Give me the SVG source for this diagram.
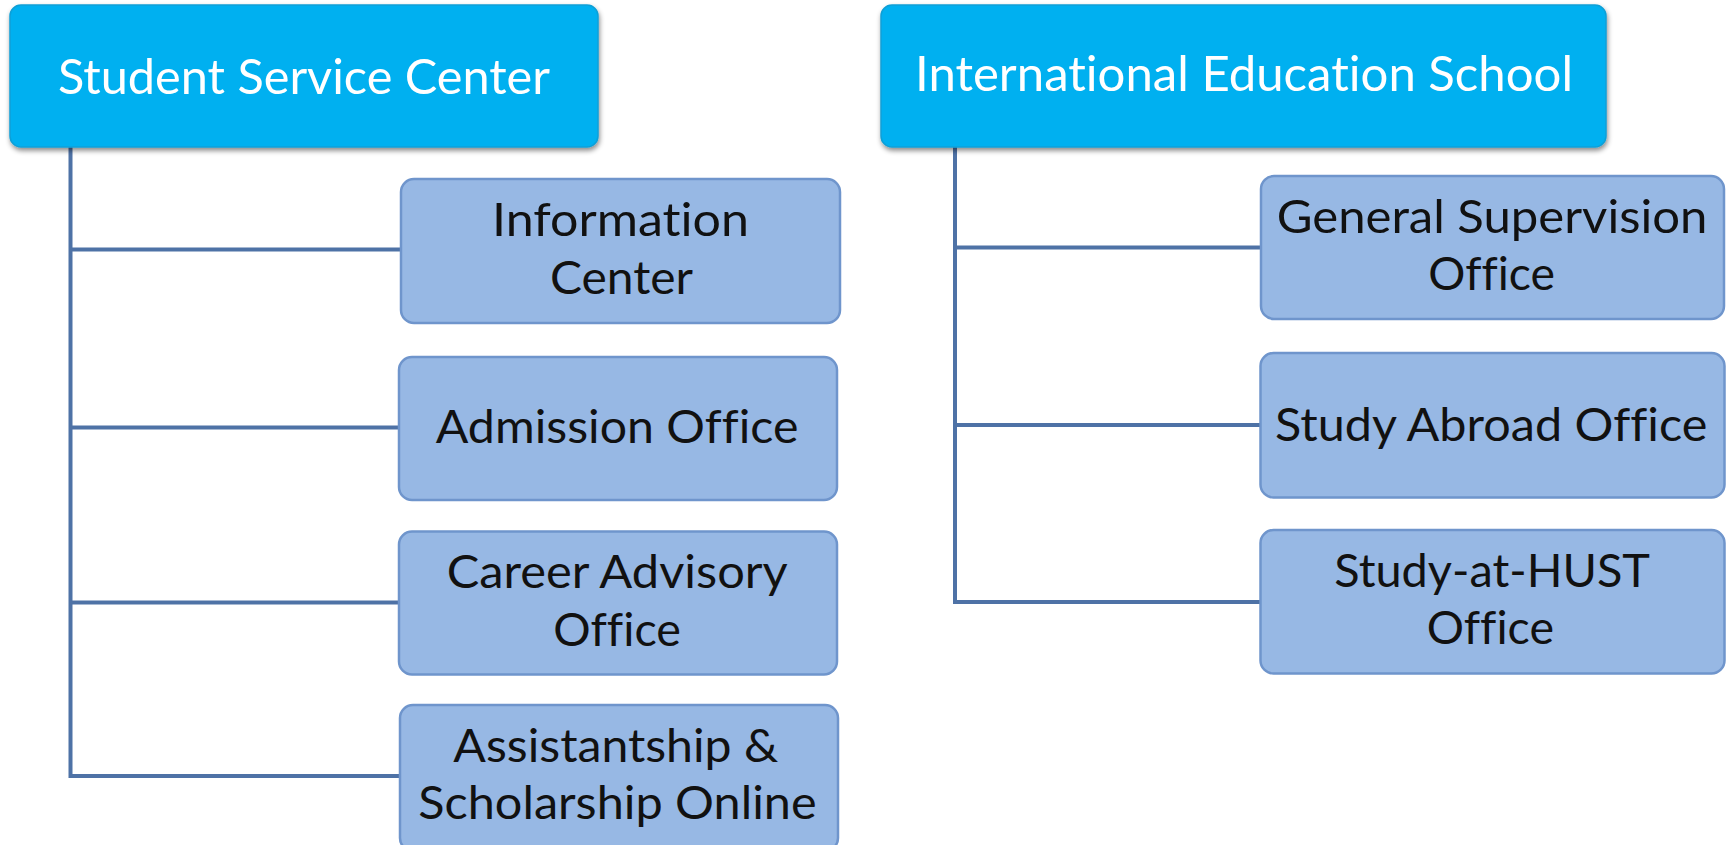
<svg xmlns="http://www.w3.org/2000/svg" width="1727" height="845" viewBox="0 0 1727 845">
<style>
.top{fill:#00B0F0;stroke:#0E9FD6;stroke-width:1.5}
.child{fill:#97B8E4;stroke:#6F95CC;stroke-width:2.5}
.tt{font-family:Lato,"Open Sans","Liberation Sans",sans-serif;font-size:49px;fill:#FFFFFF;font-variant-ligatures:none;font-feature-settings:"liga" 0,"dlig" 0}
.ct{font-family:Lato,"Open Sans","Liberation Sans",sans-serif;font-size:47px;fill:#111111;font-variant-ligatures:none;font-feature-settings:"liga" 0,"dlig" 0}
.conn{fill:none;stroke:#4E72A6;stroke-width:4}
</style>
<defs>
<filter id="sh" x="-5%" y="-10%" width="110%" height="130%">
<feDropShadow dx="1" dy="3" stdDeviation="2.5" flood-color="#000000" flood-opacity="0.45"/>
</filter>
</defs>
<rect width="1727" height="845" fill="#FFFFFF"/>
<g id="connectors">
<path class="conn" d="M70.5 146 V776 H400 M70.5 249.5 H401 M70.5 427.5 H399 M70.5 602.5 H399"/>
<path class="conn" d="M955 146 V602 H1261 M955 247.5 H1261 M955 425 H1261"/>
</g>
<g id="student-service-center">
<rect class="top" x="10" y="5" width="588" height="142" rx="11" filter="url(#sh)"/>
<text class="tt" x="58" y="93.5" textLength="492" lengthAdjust="spacingAndGlyphs">Student Service Center</text>
</g>
<g id="international-education-school">
<rect class="top" x="881" y="5" width="725" height="142" rx="11" filter="url(#sh)"/>
<text class="tt" x="915" y="91" textLength="658" lengthAdjust="spacingAndGlyphs">International Education School</text>
</g>
<g id="information-center">
<rect class="child" x="401" y="179" width="439" height="144" rx="13"/>
<text class="ct" x="492" y="236" textLength="257" lengthAdjust="spacingAndGlyphs">Information</text>
<text class="ct" x="550" y="293.7" textLength="143" lengthAdjust="spacingAndGlyphs">Center</text>
</g>
<g id="admission-office">
<rect class="child" x="399" y="357" width="438" height="143" rx="13"/>
<text class="ct" x="435.7" y="443.3" textLength="362.7" lengthAdjust="spacingAndGlyphs">Admission Office</text>
</g>
<g id="career-advisory-office">
<rect class="child" x="399" y="531.5" width="438" height="143" rx="13"/>
<text class="ct" x="446.7" y="588.3" textLength="341" lengthAdjust="spacingAndGlyphs">Career Advisory</text>
<text class="ct" x="553.3" y="646" textLength="127.7" lengthAdjust="spacingAndGlyphs">Office</text>
</g>
<g id="assistantship-scholarship-online">
<rect class="child" x="400" y="705" width="438" height="146" rx="13"/>
<text class="ct" x="453.3" y="762.3" textLength="325" lengthAdjust="spacingAndGlyphs">Assistantship &amp;</text>
<text class="ct" x="418.3" y="819.3" textLength="398.3" lengthAdjust="spacingAndGlyphs">Scholarship Online</text>
</g>
<g id="general-supervision-office">
<rect class="child" x="1261" y="176" width="463" height="143" rx="13"/>
<text class="ct" x="1276.7" y="233.3" textLength="430.7" lengthAdjust="spacingAndGlyphs">General Supervision</text>
<text class="ct" x="1428.3" y="290" textLength="126.7" lengthAdjust="spacingAndGlyphs">Office</text>
</g>
<g id="study-abroad-office">
<rect class="child" x="1260.5" y="353" width="464" height="144.5" rx="13"/>
<text class="ct" x="1275" y="440.7" textLength="432.3" lengthAdjust="spacingAndGlyphs">Study Abroad Office</text>
</g>
<g id="study-at-hust-office">
<rect class="child" x="1260.5" y="530" width="464" height="143.5" rx="13"/>
<text class="ct" x="1334.3" y="586.7" textLength="315.7" lengthAdjust="spacingAndGlyphs">Study-at-HUST</text>
<text class="ct" x="1426.7" y="644" textLength="127.3" lengthAdjust="spacingAndGlyphs">Office</text>
</g>
</svg>
